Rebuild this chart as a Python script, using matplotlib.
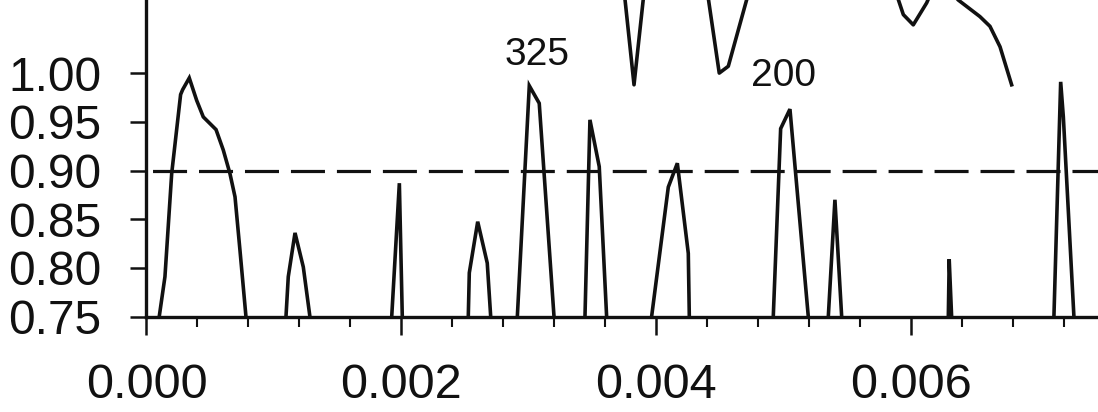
import numpy as np
import matplotlib
matplotlib.use('Agg')
import matplotlib.pyplot as plt
from matplotlib.ticker import MultipleLocator, FormatStrFormatter

plt.rcParams['font.family'] = ['Liberation Sans', 'DejaVu Sans']
plt.rcParams['lines.scale_dashes'] = False

# ---------------------------------------------------------------- #
# data
# ---------------------------------------------------------------- #
nan = np.nan
# lower curve, one peak per block, nan between peaks
t_low = [0.000100, 0.000145, 0.000198, 0.000268, 0.000284, 0.000336, 0.000394, 0.000446,
         0.000546, 0.000603, 0.000655, 0.000695, 0.000734, 0.000781, nan,
         0.001095, 0.001113, 0.001166, 0.001231, 0.001283, nan,
         0.001925, 0.001985, 0.002008, nan,
         0.002526, 0.002534, 0.002600, 0.002675, 0.002702, nan,
         0.002911, 0.003005, 0.003083, 0.003199, nan,
         0.003442, 0.003481, 0.003554, 0.003612, nan,
         0.003965, 0.004096, 0.004167, 0.004253, 0.004261, nan,
         0.004920, 0.004978, 0.005051, 0.005195, nan,
         0.005352, 0.005404, 0.005457, nan,
         0.006294, 0.006301, 0.006320, nan,
         0.007123, 0.007176, 0.007197, 0.007280]
r_low = [0.75, 0.791, 0.897, 0.978, 0.983, 0.995, 0.972, 0.955,
         0.942, 0.921, 0.897, 0.873, 0.818, 0.75, nan,
         0.75, 0.791, 0.836, 0.801, 0.75, nan,
         0.75, 0.887, 0.75, nan,
         0.75, 0.795, 0.8475, 0.805, 0.75, nan,
         0.75, 0.987, 0.969, 0.75, nan,
         0.75, 0.952, 0.904, 0.75, nan,
         0.75, 0.883, 0.9075, 0.815, 0.75, nan,
         0.75, 0.943, 0.963, 0.75, nan,
         0.75, 0.870, 0.75, nan,
         0.75, 0.809, 0.75, nan,
         0.75, 0.991, 0.955, 0.75]

# upper curve, mostly above the visible range
t_up = [0.003696, 0.003827, 0.003961, 0.004328, 0.004496, 0.004567, 0.004869,
        0.005711, 0.005941, 0.006019, 0.006124, 0.006214, 0.006372, 0.006542,
        0.006621, 0.006700, 0.006791]
r_up = [1.15, 0.988, 1.15, 1.15, 1.000, 1.007, 1.15,
        1.15, 1.060, 1.0495, 1.072, 1.099, 1.075, 1.058,
        1.048, 1.027, 0.988]

threshold = 0.90
labels = ['325', '200']
label_t = [0.003069, 0.005004]
label_r = [1.0187, 0.9973]

ytick_vals = [0.75, 0.80, 0.85, 0.90, 0.95, 1.00]

# ---------------------------------------------------------------- #
# figure
# ---------------------------------------------------------------- #
ink = '#111111'
fig = plt.figure(figsize=(10.98, 4.12), dpi=100)
ax = fig.add_axes([0.1334, 0.2313, 1 - 0.1334, 1 - 0.2313])

ax.plot(t_low, r_low, color=ink, lw=2.6, solid_joinstyle='miter')
ax.plot(t_up, r_up, color=ink, lw=2.6)
ax.axhline(threshold, color=ink, lw=2.3, linestyle=(28.4, (24.5, 8.6)))

for s, x, y in zip(labels, label_t, label_r):
    ax.text(x, y, s, fontsize=28, ha='center', va='center', color=ink)

ax.set_xlim(0, 0.007469)
ax.set_ylim(0.75, 1.075)

ax.set_yticks(ytick_vals)
ax.yaxis.set_major_formatter(FormatStrFormatter('%.2f'))
ax.xaxis.set_major_locator(MultipleLocator(0.002))
ax.xaxis.set_minor_locator(MultipleLocator(0.0004))
ax.xaxis.set_major_formatter(FormatStrFormatter('%.3f'))

ax.tick_params(axis='y', which='major', length=11.5, width=1.8, pad=21,
               labelsize=34.5, color=ink, labelcolor=ink)
ax.tick_params(axis='x', which='major', length=13, width=1.8, pad=20,
               labelsize=35, color=ink, labelcolor=ink)
ax.tick_params(axis='x', which='minor', length=7, width=1.5, color=ink)

for side in ['top', 'right']:
    ax.spines[side].set_visible(False)
for side in ['left', 'bottom']:
    ax.spines[side].set_linewidth(2.4)
    ax.spines[side].set_color(ink)

fig.savefig('out.png', dpi=100)
